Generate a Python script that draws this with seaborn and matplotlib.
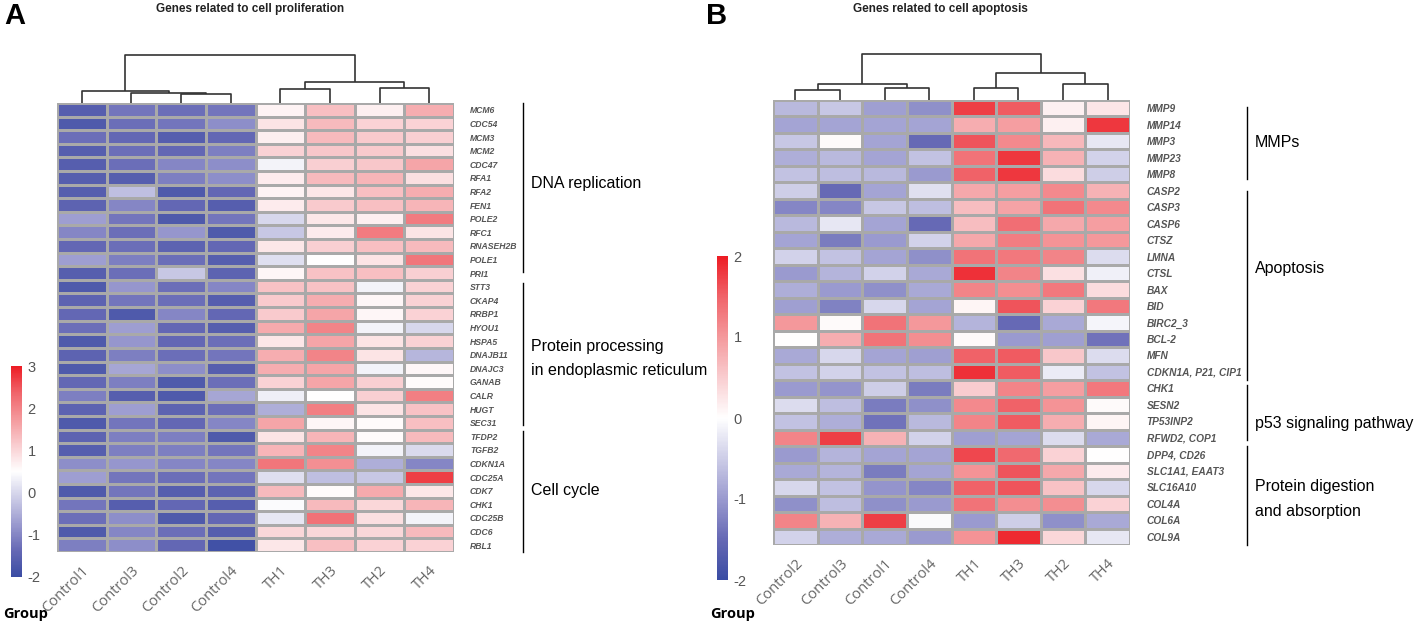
import matplotlib
matplotlib.use('Agg')
import matplotlib.pyplot as plt
import matplotlib.transforms as mtransforms
from matplotlib.colors import LinearSegmentedColormap
import pandas as pd
import numpy as np
import seaborn as sns

###################################
# data
prolif_samples = ['Control1', 'Control3', 'Control2', 'Control4', 'TH1', 'TH3', 'TH2', 'TH4']
prolif_genes = ['MCM6', 'CDC54', 'MCM3', 'MCM2', 'CDC47', 'RFA1', 'RFA2', 'FEN1', 'POLE2', 'RFC1',
                'RNASEH2B', 'POLE1', 'PRI1', 'STT3', 'CKAP4', 'RRBP1', 'HYOU1', 'HSPA5', 'DNAJB11',
                'DNAJC3', 'GANAB', 'CALR', 'HUGT', 'SEC31', 'TFDP2', 'TGFB2', 'CDKN1A', 'CDC25A',
                'CDK7', 'CHK1', 'CDC25B', 'CDC6', 'RBL1']
prolif_values = [
    [-1.6, -1.2, -1.3, -1.2, 0.65, 1.3, 0.7, 1.5],
    [-1.7, -1.3, -1.2, -0.9, 0.85, 1.35, 1.05, 1.05],
    [-1.3, -1.4, -1.6, -1.4, 0.7, 1.35, 1.15, 1.1],
    [-1.6, -1.3, -1.4, -1.1, 1.05, 1.2, 1.15, 0.9],
    [-1.6, -1.3, -1.0, -0.9, 0.35, 1.1, 1.2, 1.6],
    [-1.6, -1.6, -1.1, -0.9, 0.75, 1.35, 1.4, 0.9],
    [-1.6, -0.3, -1.7, -1.4, 0.65, 0.8, 1.3, 1.5],
    [-1.5, -1.0, -1.4, -1.6, 0.75, 1.15, 1.3, 1.4],
    [-0.7, -1.2, -1.7, -1.2, 0.0, 0.8, 0.7, 2.1],
    [-1.0, -1.3, -0.8, -1.7, -0.2, 0.75, 2.1, 0.85],
    [-1.4, -1.3, -1.5, -1.4, 0.8, 1.1, 1.3, 1.35],
    [-0.7, -1.1, -1.3, -1.6, 0.1, 0.5, 0.85, 2.15],
    [-1.6, -1.3, -0.2, -1.5, 0.6, 1.25, 1.3, 1.1],
    [-1.7, -0.8, -1.3, -1.0, 1.25, 1.25, 0.35, 1.05],
    [-1.5, -1.2, -1.3, -1.6, 1.15, 1.5, 0.6, 1.05],
    [-1.4, -1.7, -1.0, -1.4, 1.15, 1.6, 0.6, 1.05],
    [-1.3, -0.7, -1.4, -1.6, 1.55, 2.0, 0.35, 0.0],
    [-1.7, -0.8, -1.4, -1.3, 0.8, 1.6, 0.85, 1.05],
    [-1.5, -1.1, -1.3, -1.2, 1.5, 2.0, 0.85, -0.4],
    [-1.7, -0.6, -0.9, -1.6, 1.5, 1.6, 0.35, 0.6],
    [-1.4, -1.1, -1.7, -1.3, 1.05, 1.6, 1.1, 0.55],
    [-1.1, -1.6, -1.7, -0.6, 0.3, 0.5, 1.1, 2.05],
    [-1.5, -0.7, -1.5, -1.3, -0.5, 2.05, 0.85, 1.25],
    [-1.7, -1.2, -1.4, -1.0, 1.6, 0.6, 0.55, 1.3],
    [-1.5, -1.1, -1.1, -1.7, 0.85, 1.4, 0.55, 1.35],
    [-1.6, -1.1, -1.1, -1.2, 1.4, 2.0, 0.35, 0.05],
    [-0.9, -0.8, -1.0, -1.0, 2.15, 1.85, -0.5, -1.0],
    [-0.7, -1.2, -1.3, -1.2, 0.1, -0.3, -0.2, 2.7],
    [-1.7, -1.2, -1.6, -1.5, 1.35, 0.55, 1.55, 0.8],
    [-1.2, -1.6, -1.4, -1.6, 0.45, 1.35, 1.0, 1.4],
    [-1.3, -0.9, -1.7, -1.4, 0.2, 2.2, 0.9, 0.35],
    [-1.7, -1.0, -1.3, -1.6, 1.0, 1.0, 1.0, 1.35],
    [-1.1, -0.9, -1.4, -1.9, 0.8, 1.3, 1.05, 1.05],
]
# column dendrogram: (left node, right node, merge height)
prolif_merges = [(2, 3, 9), (1, 8, 10.5), (0, 9, 12.5), (4, 5, 14), (6, 7, 15), (11, 12, 21), (10, 13, 48)]
prolif_groups = ['DNA replication', 'Protein processing\nin endoplasmic reticulum', 'Cell cycle']
prolif_spans = [(0, 12.4), (13.2, 23.7), (24.1, 33)]
prolif_label_rows = [5.9, 18.8, 28.5]

apop_samples = ['Control2', 'Control3', 'Control1', 'Control4', 'TH1', 'TH3', 'TH2', 'TH4']
apop_genes = ['MMP9', 'MMP14', 'MMP3', 'MMP23', 'MMP8', 'CASP2', 'CASP3', 'CASP6', 'CTSZ', 'LMNA',
              'CTSL', 'BAX', 'BID', 'BIRC2_3', 'BCL-2', 'MFN', 'CDKN1A, P21, CIP1', 'CHK1', 'SESN2',
              'TP53INP2', 'RFWD2, COP1', 'DPP4, CD26', 'SLC1A1, EAAT3', 'SLC16A10', 'COL4A', 'COL6A',
              'COL9A']
apop_values = [
    [-0.7, -0.55, -0.95, -1.1, 1.75, 1.55, 0.15, 0.25],
    [-0.9, -0.9, -0.9, -0.9, 0.8, 0.95, 0.15, 1.8],
    [-0.55, 0.05, -0.9, -1.5, 1.6, 1.15, 0.7, -0.25],
    [-0.8, -0.7, -0.9, -0.6, 1.35, 1.8, 0.75, -0.45],
    [-0.6, -0.65, -0.7, -1.0, 1.5, 1.8, 0.35, -0.5],
    [-0.5, -1.5, -0.9, -0.3, 0.85, 0.95, 1.15, 0.75],
    [-1.2, -1.2, -0.55, -0.65, 0.65, 0.9, 1.35, 1.15],
    [-0.7, -0.25, -0.9, -1.5, 0.65, 1.4, 0.85, 0.95],
    [-0.9, -1.3, -1.0, -0.45, 0.85, 1.25, 1.05, 1.0],
    [-0.45, -0.6, -0.9, -1.1, 1.35, 1.3, 1.2, -0.35],
    [-1.0, -0.75, -0.45, -0.85, 1.85, 1.2, 0.3, -0.15],
    [-0.8, -1.0, -1.1, -0.85, 1.2, 1.1, 1.3, 0.35],
    [-0.95, -1.25, -0.4, -0.9, 0.1, 1.6, 0.45, 1.3],
    [1.0, 0.05, 1.35, 1.0, -0.75, -1.5, -0.85, -0.1],
    [0.0, 0.8, 1.35, 1.1, 0.05, -1.0, -0.95, -1.4],
    [-0.85, -0.4, -0.9, -0.95, 1.5, 1.55, 0.55, -0.35],
    [-0.6, -0.45, -0.6, -0.65, 1.85, 1.55, -0.2, -0.6],
    [-1.0, -1.05, -0.5, -1.3, 0.5, 1.2, 0.95, 1.3],
    [-0.35, -0.65, -1.3, -1.1, 1.15, 1.5, 1.05, 0.05],
    [-0.6, -0.8, -1.4, -0.7, 1.2, 1.55, 0.8, 0.1],
    [1.2, 1.75, 0.75, -0.45, -0.95, -0.9, -0.35, -0.85],
    [-1.0, -0.75, -0.9, -0.9, 1.7, 1.45, 0.45, 0.0],
    [-0.85, -0.75, -1.3, -0.9, 1.05, 1.6, 0.85, 0.2],
    [-0.4, -0.6, -1.05, -1.2, 1.5, 1.6, 0.6, -0.4],
    [-1.1, -0.65, -1.1, -1.0, 1.35, 1.1, 1.1, 0.45],
    [1.2, 0.75, 1.75, -0.05, -1.0, -0.5, -1.1, -0.85],
    [-0.45, -0.8, -0.85, -1.0, 1.05, 1.9, 0.4, -0.25],
]
apop_merges = [(0, 1, 10), (2, 3, 12), (8, 9, 15.7), (4, 5, 11.7), (6, 7, 15.7), (11, 12, 26.7), (10, 13, 45.7)]
apop_groups = ['MMPs', 'Apoptosis', 'p53 signaling pathway', 'Protein digestion\nand absorption']
apop_spans = [(0.4, 4.8), (5.5, 17.0), (17.3, 20.6), (21.0, 27)]
apop_label_rows = [2.6, 10.2, 19.6, 24.2]
####################################

W, H = 1417, 623
plt.rcParams['font.family'] = ['Liberation Sans', 'DejaVu Sans']
plt.rcParams['axes.unicode_minus'] = False

# blue side passes through lavender tones, red side straight to white
cmap = LinearSegmentedColormap.from_list('blue_white_red', [
    (0.0, '#3a4ca3'), (0.125, '#6669b5'), (0.25, '#9a9acf'), (0.375, '#cdcde7'),
    (0.5, '#ffffff'), (0.625, '#f9cdd0'), (0.75, '#f4999c'), (0.875, '#f0646a'),
    (1.0, '#ed1c24')])


def box(x0, y0, x1, y1):
    # pixel box (top-left origin) -> figure fraction rect
    return [x0 / W, 1 - y1 / H, (x1 - x0) / W, (y1 - y0) / H]


def draw_dendro(ax, merges, n_leaves, top):
    xs = {i: i + 0.5 for i in range(n_leaves)}
    hs = {i: 0.0 for i in range(n_leaves)}
    node = n_leaves
    for a, b, h in merges:
        ax.plot([xs[a], xs[a], xs[b], xs[b]], [hs[a], h, h, hs[b]],
                color='#333333', lw=1.2, solid_capstyle='butt')
        xs[node] = (xs[a] + xs[b]) / 2
        hs[node] = h
        node += 1
    ax.set_xlim(0, n_leaves)
    ax.set_ylim(0, top)
    ax.axis('off')


def panel(fig, values, genes, samples, vmin, vmax, hm, cb, merges, ypad, gene_fs,
          groups, spans, label_rows, bracket_x, title, title_x, letter, letter_x, group_x, lsp):
    df = pd.DataFrame(values, index=genes, columns=samples)
    ax = fig.add_axes(box(*hm))
    cax = fig.add_axes(box(*cb))
    sns.heatmap(df, ax=ax, cbar_ax=cax, cmap=cmap, vmin=vmin, vmax=vmax,
                linewidths=0.8, linecolor='#a9a9a9',
                xticklabels=samples, yticklabels=genes)
    ax.yaxis.tick_right()
    ax.tick_params(axis='y', length=0, pad=ypad)
    ax.tick_params(axis='x', length=0, pad=8)
    for t in ax.get_yticklabels():
        t.set_rotation(0)
        t.set_fontsize(gene_fs)
        t.set_fontweight('bold')
        t.set_fontstyle('italic')
        t.set_color('#555555')
        t.set_ha('left')
    for t in ax.get_xticklabels():
        t.set_rotation(45)
        t.set_ha('right')
        t.set_rotation_mode('anchor')
        t.set_fontsize(10.5)
        t.set_color('#666666')
        t.set_family(['Open Sans', 'DejaVu Sans'])
    ax.set_xlabel('')
    ax.set_ylabel('')

    cbar = ax.collections[0].colorbar
    cbar.outline.set_visible(False)
    cbar.set_ticks(np.arange(vmin, vmax + 1))
    cax.tick_params(length=0, labelsize=10.5, labelcolor='#555555', pad=4)

    # column dendrogram
    dax = fig.add_axes(box(hm[0], hm[1] - 50, hm[2], hm[1]))
    draw_dendro(dax, merges, len(samples), 50)

    # group brackets
    trans = mtransforms.blended_transform_factory(fig.transFigure, ax.transData)
    for name, (r0, r1), ry in zip(groups, spans, label_rows):
        ax.plot([bracket_x / W, bracket_x / W], [r0, r1], transform=trans,
                color='black', lw=1, clip_on=False)
        ax.text((bracket_x + 8) / W, ry, name, transform=trans, fontsize=11.5,
                va='center', ha='left', linespacing=lsp)

    fig.text(title_x / W, 1 - 9 / H, title, ha='center', va='center',
             fontsize=8.5, fontweight='bold', color='#222222')
    fig.text(letter_x / W, 1 - 16 / H, letter, ha='left', va='center',
             fontsize=21, fontweight='bold')
    fig.text(group_x / W, 1 - 614 / H, 'Group', ha='left', va='center', fontsize=10.5,
             fontweight='bold', family=['Open Sans', 'DejaVu Sans'])


fig = plt.figure(figsize=(W / 100, H / 100), dpi=100)

panel(fig, prolif_values, prolif_genes, prolif_samples, -2, 3,
      (57, 103, 454, 552), (11, 366, 22, 577), prolif_merges, 11.5, 6.2,
      prolif_groups, prolif_spans, prolif_label_rows, 523,
      'Genes related to cell proliferation', 250, 'A', 4, 3, 1.75)

panel(fig, apop_values, apop_genes, apop_samples, -2, 2,
      (773, 100, 1130, 545), (717, 256, 728, 580), apop_merges, 12, 7.3,
      apop_groups, apop_spans, apop_label_rows, 1247,
      'Genes related to cell apoptosis', 940, 'B', 706, 710, 1.85)

fig.savefig('out.png', dpi=100)
